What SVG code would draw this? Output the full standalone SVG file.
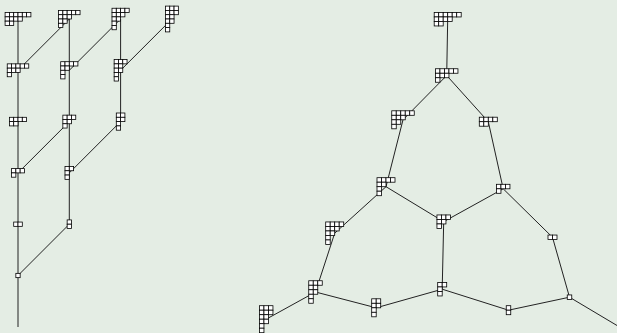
<svg xmlns="http://www.w3.org/2000/svg" xmlns:xlink="http://www.w3.org/1999/xlink" width="617" height="333" viewBox="0 0 617 333">
<style>
.bg{fill:#e4ede4}
.e line{stroke:#222;stroke-width:1;fill:none}
.n{fill:#fff;stroke:#000;stroke-width:0.8}
</style>
<defs>
<rect id="a" width="4.3" height="4.3"/>
<rect id="b" width="4.5" height="4.5"/>
</defs>
<rect class="bg" width="617" height="333"/>
<g id="connectors" class="e">
<line x1="18" y1="19" x2="18" y2="327"/>
<line x1="69.3" y1="19" x2="69.3" y2="224.2"/>
<line x1="120.6" y1="19" x2="120.6" y2="121.6"/>
<line x1="18" y1="70.3" x2="69.3" y2="19"/>
<line x1="69.3" y1="70.3" x2="120.6" y2="19"/>
<line x1="120.6" y1="70.3" x2="171.9" y2="19"/>
<line x1="18" y1="172.9" x2="69.3" y2="121.6"/>
<line x1="69.3" y1="172.9" x2="120.6" y2="121.6"/>
<line x1="18" y1="275.5" x2="69.3" y2="224.2"/>
<line x1="447.7" y1="19.2" x2="446.7" y2="75.5"/>
<line x1="446.7" y1="75.5" x2="403" y2="119.8"/>
<line x1="446.7" y1="75.5" x2="488.3" y2="121.7"/>
<line x1="403" y1="119.8" x2="386" y2="186.7"/>
<line x1="488.3" y1="121.7" x2="503.2" y2="188.8"/>
<line x1="386" y1="186.7" x2="334.7" y2="233.2"/>
<line x1="386" y1="186.7" x2="443.7" y2="221.7"/>
<line x1="503.2" y1="188.8" x2="443.7" y2="221.7"/>
<line x1="503.2" y1="188.8" x2="552.5" y2="237.3"/>
<line x1="334.7" y1="233.2" x2="315.5" y2="292"/>
<line x1="443.7" y1="221.7" x2="442.2" y2="289.2"/>
<line x1="552.5" y1="237.3" x2="569.5" y2="297.2"/>
<line x1="315.5" y1="292" x2="266.2" y2="319.2"/>
<line x1="315.5" y1="292" x2="376.2" y2="307.8"/>
<line x1="442.2" y1="289.2" x2="376.2" y2="307.8"/>
<line x1="442.2" y1="289.2" x2="508.5" y2="310.2"/>
<line x1="508.5" y1="310.2" x2="569.5" y2="297.2"/>
<line x1="569.5" y1="297.2" x2="620" y2="327.3"/>
</g>
<g id="L642" class="n" transform="translate(5.1,12.55)">
<use href="#a"/><use href="#a" x="4.3"/><use href="#a" x="8.6"/><use href="#a" x="12.9"/><use href="#a" x="17.2"/><use href="#a" x="21.5"/>
<use href="#a" y="4.3"/><use href="#a" x="4.3" y="4.3"/><use href="#a" x="8.6" y="4.3"/><use href="#a" x="12.9" y="4.3"/>
<use href="#a" y="8.6"/><use href="#a" x="4.3" y="8.6"/>
</g>
<g id="L5321" class="n" transform="translate(58.55,10.4)">
<use href="#a"/><use href="#a" x="4.3"/><use href="#a" x="8.6"/><use href="#a" x="12.9"/><use href="#a" x="17.2"/>
<use href="#a" y="4.3"/><use href="#a" x="4.3" y="4.3"/><use href="#a" x="8.6" y="4.3"/>
<use href="#a" y="8.6"/><use href="#a" x="4.3" y="8.6"/>
<use href="#a" y="12.9"/>
</g>
<g id="L43211" class="n" transform="translate(112,8.25)">
<use href="#a"/><use href="#a" x="4.3"/><use href="#a" x="8.6"/><use href="#a" x="12.9"/>
<use href="#a" y="4.3"/><use href="#a" x="4.3" y="4.3"/><use href="#a" x="8.6" y="4.3"/>
<use href="#a" y="8.6"/><use href="#a" x="4.3" y="8.6"/>
<use href="#a" y="12.9"/>
<use href="#a" y="17.2"/>
</g>
<g id="L332211" class="n" transform="translate(165.45,6.1)">
<use href="#a"/><use href="#a" x="4.3"/><use href="#a" x="8.6"/>
<use href="#a" y="4.3"/><use href="#a" x="4.3" y="4.3"/><use href="#a" x="8.6" y="4.3"/>
<use href="#a" y="8.6"/><use href="#a" x="4.3" y="8.6"/>
<use href="#a" y="12.9"/><use href="#a" x="4.3" y="12.9"/>
<use href="#a" y="17.2"/>
<use href="#a" y="21.5"/>
</g>
<g id="L531" class="n" transform="translate(7.25,63.85)">
<use href="#a"/><use href="#a" x="4.3"/><use href="#a" x="8.6"/><use href="#a" x="12.9"/><use href="#a" x="17.2"/>
<use href="#a" y="4.3"/><use href="#a" x="4.3" y="4.3"/><use href="#a" x="8.6" y="4.3"/>
<use href="#a" y="8.6"/>
</g>
<g id="L4211" class="n" transform="translate(60.7,61.7)">
<use href="#a"/><use href="#a" x="4.3"/><use href="#a" x="8.6"/><use href="#a" x="12.9"/>
<use href="#a" y="4.3"/><use href="#a" x="4.3" y="4.3"/>
<use href="#a" y="8.6"/>
<use href="#a" y="12.9"/>
</g>
<g id="L32211" class="n" transform="translate(114.15,59.55)">
<use href="#a"/><use href="#a" x="4.3"/><use href="#a" x="8.6"/>
<use href="#a" y="4.3"/><use href="#a" x="4.3" y="4.3"/>
<use href="#a" y="8.6"/><use href="#a" x="4.3" y="8.6"/>
<use href="#a" y="12.9"/>
<use href="#a" y="17.2"/>
</g>
<g id="L42" class="n" transform="translate(9.4,117.3)">
<use href="#a"/><use href="#a" x="4.3"/><use href="#a" x="8.6"/><use href="#a" x="12.9"/>
<use href="#a" y="4.3"/><use href="#a" x="4.3" y="4.3"/>
</g>
<g id="L321" class="n" transform="translate(62.85,115.15)">
<use href="#a"/><use href="#a" x="4.3"/><use href="#a" x="8.6"/>
<use href="#a" y="4.3"/><use href="#a" x="4.3" y="4.3"/>
<use href="#a" y="8.6"/>
</g>
<g id="L2211" class="n" transform="translate(116.3,113)">
<use href="#a"/><use href="#a" x="4.3"/>
<use href="#a" y="4.3"/><use href="#a" x="4.3" y="4.3"/>
<use href="#a" y="8.6"/>
<use href="#a" y="12.9"/>
</g>
<g id="L31" class="n" transform="translate(11.55,168.6)">
<use href="#a"/><use href="#a" x="4.3"/><use href="#a" x="8.6"/>
<use href="#a" y="4.3"/>
</g>
<g id="L211" class="n" transform="translate(65,166.45)">
<use href="#a"/><use href="#a" x="4.3"/>
<use href="#a" y="4.3"/>
<use href="#a" y="8.6"/>
</g>
<g id="L2" class="n" transform="translate(13.7,222.05)">
<use href="#a"/><use href="#a" x="4.3"/>
</g>
<g id="L11" class="n" transform="translate(67.15,219.9)">
<use href="#a"/>
<use href="#a" y="4.3"/>
</g>
<g id="L1" class="n" transform="translate(15.85,273.35)">
<use href="#a"/>
</g>
<g id="R642" class="n" transform="translate(434.2,12.45)">
<use href="#b"/><use href="#b" x="4.5"/><use href="#b" x="9"/><use href="#b" x="13.5"/><use href="#b" x="18"/><use href="#b" x="22.5"/>
<use href="#b" y="4.5"/><use href="#b" x="4.5" y="4.5"/><use href="#b" x="9" y="4.5"/><use href="#b" x="13.5" y="4.5"/>
<use href="#b" y="9"/><use href="#b" x="4.5" y="9"/>
</g>
<g id="R531" class="n" transform="translate(435.45,68.75)">
<use href="#b"/><use href="#b" x="4.5"/><use href="#b" x="9"/><use href="#b" x="13.5"/><use href="#b" x="18"/>
<use href="#b" y="4.5"/><use href="#b" x="4.5" y="4.5"/><use href="#b" x="9" y="4.5"/>
<use href="#b" y="9"/>
</g>
<g id="R5321" class="n" transform="translate(391.75,110.8)">
<use href="#b"/><use href="#b" x="4.5"/><use href="#b" x="9"/><use href="#b" x="13.5"/><use href="#b" x="18"/>
<use href="#b" y="4.5"/><use href="#b" x="4.5" y="4.5"/><use href="#b" x="9" y="4.5"/>
<use href="#b" y="9"/><use href="#b" x="4.5" y="9"/>
<use href="#b" y="13.5"/>
</g>
<g id="R42" class="n" transform="translate(479.3,117.2)">
<use href="#b"/><use href="#b" x="4.5"/><use href="#b" x="9"/><use href="#b" x="13.5"/>
<use href="#b" y="4.5"/><use href="#b" x="4.5" y="4.5"/>
</g>
<g id="R4211" class="n" transform="translate(377,177.7)">
<use href="#b"/><use href="#b" x="4.5"/><use href="#b" x="9"/><use href="#b" x="13.5"/>
<use href="#b" y="4.5"/><use href="#b" x="4.5" y="4.5"/>
<use href="#b" y="9"/>
<use href="#b" y="13.5"/>
</g>
<g id="R321" class="n" transform="translate(436.95,214.95)">
<use href="#b"/><use href="#b" x="4.5"/><use href="#b" x="9"/>
<use href="#b" y="4.5"/><use href="#b" x="4.5" y="4.5"/>
<use href="#b" y="9"/>
</g>
<g id="R43211" class="n" transform="translate(325.7,221.95)">
<use href="#b"/><use href="#b" x="4.5"/><use href="#b" x="9"/><use href="#b" x="13.5"/>
<use href="#b" y="4.5"/><use href="#b" x="4.5" y="4.5"/><use href="#b" x="9" y="4.5"/>
<use href="#b" y="9"/><use href="#b" x="4.5" y="9"/>
<use href="#b" y="13.5"/>
<use href="#b" y="18"/>
</g>
<g id="R31" class="n" transform="translate(496.45,184.3)">
<use href="#b"/><use href="#b" x="4.5"/><use href="#b" x="9"/>
<use href="#b" y="4.5"/>
</g>
<g id="R2" class="n" transform="translate(548,235.05)">
<use href="#b"/><use href="#b" x="4.5"/>
</g>
<g id="R211" class="n" transform="translate(437.7,282.45)">
<use href="#b"/><use href="#b" x="4.5"/>
<use href="#b" y="4.5"/>
<use href="#b" y="9"/>
</g>
<g id="R11" class="n" transform="translate(506.25,305.7)">
<use href="#b"/>
<use href="#b" y="4.5"/>
</g>
<g id="R1" class="n" transform="translate(567.25,294.95)">
<use href="#b"/>
</g>
<g id="R32211" class="n" transform="translate(308.75,280.75)">
<use href="#b"/><use href="#b" x="4.5"/><use href="#b" x="9"/>
<use href="#b" y="4.5"/><use href="#b" x="4.5" y="4.5"/>
<use href="#b" y="9"/><use href="#b" x="4.5" y="9"/>
<use href="#b" y="13.5"/>
<use href="#b" y="18"/>
</g>
<g id="R2211" class="n" transform="translate(371.7,298.8)">
<use href="#b"/><use href="#b" x="4.5"/>
<use href="#b" y="4.5"/><use href="#b" x="4.5" y="4.5"/>
<use href="#b" y="9"/>
<use href="#b" y="13.5"/>
</g>
<g id="R332211" class="n" transform="translate(259.45,305.7)">
<use href="#b"/><use href="#b" x="4.5"/><use href="#b" x="9"/>
<use href="#b" y="4.5"/><use href="#b" x="4.5" y="4.5"/><use href="#b" x="9" y="4.5"/>
<use href="#b" y="9"/><use href="#b" x="4.5" y="9"/>
<use href="#b" y="13.5"/><use href="#b" x="4.5" y="13.5"/>
<use href="#b" y="18"/>
<use href="#b" y="22.5"/>
</g>
</svg>
